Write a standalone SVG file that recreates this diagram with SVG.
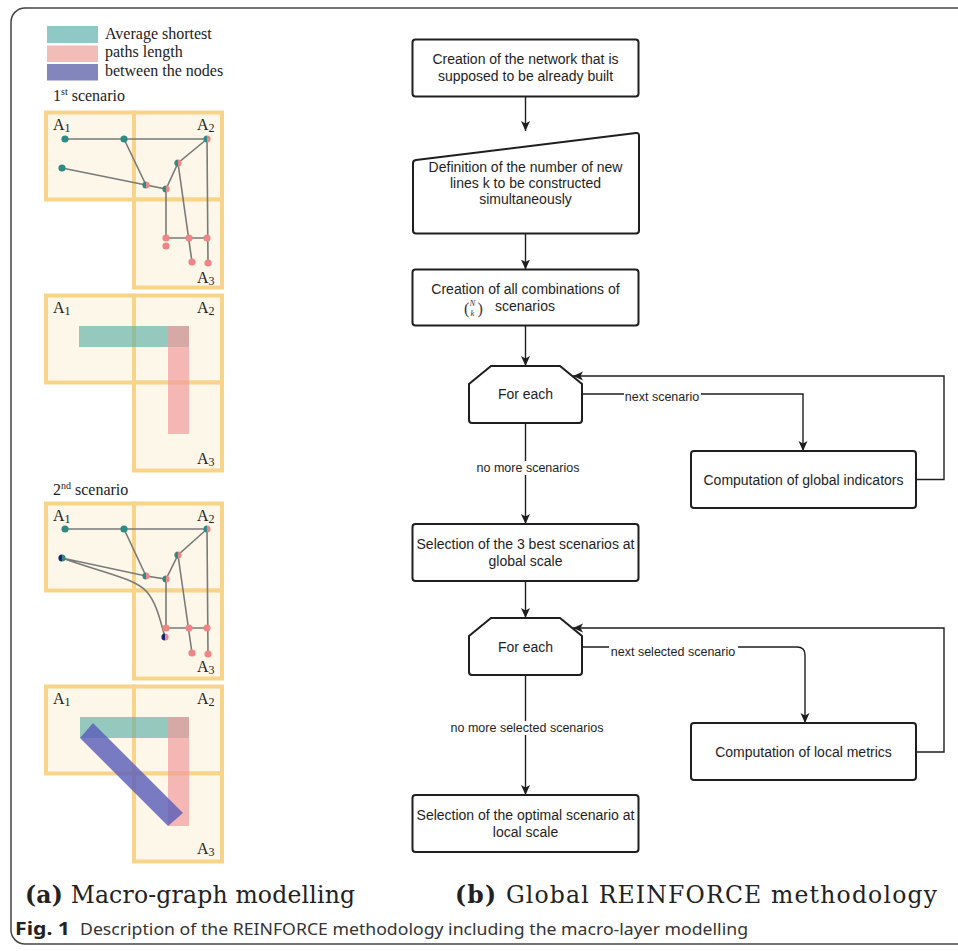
<svg xmlns="http://www.w3.org/2000/svg" width="958" height="951" viewBox="0 0 958 951">
<defs>
<style>
.area{fill:#fdf7e9;stroke:#f8d48a;stroke-width:4}
.ge{stroke:#7a7a7a;stroke-width:1.6;fill:none}
.nt{fill:#2e8b84}.np{fill:#f08585}.nb{fill:#1a237e}
.lbl{font-family:"Liberation Serif",serif;font-size:16px;fill:#222}
.box{fill:#fff;stroke:#1e1e1e;stroke-width:2}
.ft{font-family:"Liberation Sans",Arial,sans-serif;font-size:14px;fill:#1e1e1e;text-anchor:middle}
.el{font-family:"Liberation Sans",Arial,sans-serif;font-size:12.5px;fill:#1e1e1e;text-anchor:middle}
.con{stroke:#1e1e1e;stroke-width:1.4;fill:none}
.bg{fill:#fff}
.bt{fill:#5fb0a8;opacity:0.65}
.bp{fill:#f19b9b;opacity:0.7}
.bb{fill:#5a5fba;opacity:0.82}
.cap{font-family:"DejaVu Serif",serif;font-size:23.5px;fill:#222}
</style>
<marker id="arr" markerUnits="userSpaceOnUse" markerWidth="10" markerHeight="10" refX="10" refY="5" orient="auto">
<path d="M0,0.5 L10,5 L0,9.5 L2.5,5 Z" fill="#1e1e1e"/>
</marker>
</defs>
<rect width="958" height="951" fill="#fff"/>
<rect x="11" y="8" width="970" height="936" rx="14" fill="none" stroke="#444" stroke-width="1.5"/>

<g id="legend">
<rect x="47" y="26" width="51" height="17" fill="#8fc8c4"/>
<rect x="47" y="45.5" width="51" height="16.5" fill="#f2bdb7"/>
<rect x="47" y="64" width="51" height="16.5" fill="#8286bd"/>
<text class="lbl" x="105" y="39">Average shortest</text>
<text class="lbl" x="105" y="57">paths length</text>
<text class="lbl" x="105" y="75.5">between the nodes</text>
</g>

<text class="lbl" x="53" y="101">1<tspan font-size="10" dy="-6">st</tspan><tspan dy="6"> scenario</tspan></text>
<text class="lbl" x="53" y="495">2<tspan font-size="10" dy="-6">nd</tspan><tspan dy="6"> scenario</tspan></text>

<g id="panel1" transform="translate(0,112)">
<rect class="area" x="46" y="0.5" width="88" height="87"/>
<rect class="area" x="134" y="0.5" width="88" height="87"/>
<rect class="area" x="134" y="87.5" width="88" height="88"/>
<path class="ge" d="M65,27 L207,27 M124,27 L146,73 M62,56 L146,73 L166,77 L178,51 L207,27 M207,27 L208,151 M178,51 L192,150 M166,77 L166,126 L207,126"/>
<circle class="nt" cx="65" cy="27" r="3.6"/>
<circle class="nt" cx="124" cy="27" r="3.6"/>
<circle class="nt" cx="62" cy="56" r="3.6"/>
<path class="nt" d="M207,23.4 A3.6,3.6 0 0 0 207,30.6 Z"/><path class="np" d="M207,23.4 A3.6,3.6 0 0 1 207,30.6 Z"/>
<path class="nt" d="M178,47.4 A3.6,3.6 0 0 0 178,54.6 Z"/><path class="np" d="M178,47.4 A3.6,3.6 0 0 1 178,54.6 Z"/>
<path class="nt" d="M146,69.4 A3.6,3.6 0 0 0 146,76.6 Z"/><path class="np" d="M146,69.4 A3.6,3.6 0 0 1 146,76.6 Z"/>
<path class="nt" d="M166,73.4 A3.6,3.6 0 0 0 166,80.6 Z"/><path class="np" d="M166,73.4 A3.6,3.6 0 0 1 166,80.6 Z"/>
<circle class="np" cx="166" cy="126" r="3.6"/>
<circle class="np" cx="166" cy="134" r="3.6"/>
<circle class="np" cx="189" cy="126" r="3.6"/>
<circle class="np" cx="207" cy="126" r="3.6"/>
<circle class="np" cx="192" cy="150" r="3.6"/>
<circle class="np" cx="208" cy="151" r="3.6"/>
<text class="lbl" x="53" y="18">A<tspan font-size="12" dy="2">1</tspan></text>
<text class="lbl" x="197" y="18">A<tspan font-size="12" dy="2">2</tspan></text>
<text class="lbl" x="197" y="171">A<tspan font-size="12" dy="2">3</tspan></text>
</g>

<g id="panel2" transform="translate(0,295)">
<rect class="area" x="46" y="0.5" width="88" height="87"/>
<rect class="area" x="134" y="0.5" width="88" height="87"/>
<rect class="area" x="134" y="87.5" width="88" height="88"/>
<rect class="bt" x="79" y="31" width="110" height="21"/>
<rect class="bp" x="168" y="31" width="21" height="108"/>
<text class="lbl" x="53" y="18">A<tspan font-size="12" dy="2">1</tspan></text>
<text class="lbl" x="197" y="18">A<tspan font-size="12" dy="2">2</tspan></text>
<text class="lbl" x="197" y="169">A<tspan font-size="12" dy="2">3</tspan></text>
</g>

<g id="panel3" transform="translate(0,503)">
<rect class="area" x="46" y="0.5" width="88" height="87"/>
<rect class="area" x="134" y="0.5" width="88" height="87"/>
<rect class="area" x="134" y="87.5" width="88" height="88"/>
<path class="ge" d="M65,26 L207,26 M124,26 L146,73 M62,55 L146,73 L166,76 L178,52 L207,26 M207,26 L208,151 M178,52 L192,150 M166,76 L166,125 L207,125 M62,55 C100,69 135,75 147,89 C157,101 160,117 165,134"/>
<circle class="nt" cx="65" cy="26" r="3.6"/>
<circle class="nt" cx="124" cy="26" r="3.6"/>
<path class="nb" d="M62,51.4 A3.6,3.6 0 0 0 62,58.6 Z"/><path class="nt" d="M62,51.4 A3.6,3.6 0 0 1 62,58.6 Z"/>
<path class="nt" d="M207,22.4 A3.6,3.6 0 0 0 207,29.6 Z"/><path class="np" d="M207,22.4 A3.6,3.6 0 0 1 207,29.6 Z"/>
<path class="nt" d="M178,48.4 A3.6,3.6 0 0 0 178,55.6 Z"/><path class="np" d="M178,48.4 A3.6,3.6 0 0 1 178,55.6 Z"/>
<path class="nt" d="M146,69.4 A3.6,3.6 0 0 0 146,76.6 Z"/><path class="np" d="M146,69.4 A3.6,3.6 0 0 1 146,76.6 Z"/>
<path class="nt" d="M166,72.4 A3.6,3.6 0 0 0 166,79.6 Z"/><path class="np" d="M166,72.4 A3.6,3.6 0 0 1 166,79.6 Z"/>
<circle class="np" cx="166" cy="125" r="3.6"/>
<path class="nb" d="M165,130.4 A3.6,3.6 0 0 0 165,137.6 Z"/><path class="np" d="M165,130.4 A3.6,3.6 0 0 1 165,137.6 Z"/>
<circle class="np" cx="189" cy="125" r="3.6"/>
<circle class="np" cx="207" cy="125" r="3.6"/>
<circle class="np" cx="192" cy="150" r="3.6"/>
<circle class="np" cx="208" cy="151" r="3.6"/>
<text class="lbl" x="53" y="18">A<tspan font-size="12" dy="2">1</tspan></text>
<text class="lbl" x="197" y="18">A<tspan font-size="12" dy="2">2</tspan></text>
<text class="lbl" x="197" y="169">A<tspan font-size="12" dy="2">3</tspan></text>
</g>

<g id="panel4" transform="translate(0,686)">
<rect class="area" x="46" y="0.5" width="88" height="87"/>
<rect class="area" x="134" y="0.5" width="88" height="87"/>
<rect class="area" x="134" y="87.5" width="88" height="88"/>
<rect class="bt" x="80" y="31" width="109" height="21"/>
<rect class="bp" x="168" y="31" width="21" height="109"/>
<polygon class="bb" points="80,52 93,37 183,127 168,140"/>
<text class="lbl" x="53" y="18">A<tspan font-size="12" dy="2">1</tspan></text>
<text class="lbl" x="197" y="18">A<tspan font-size="12" dy="2">2</tspan></text>
<text class="lbl" x="197" y="168">A<tspan font-size="12" dy="2">3</tspan></text>
</g>

<g id="connectors">
<path class="con" marker-end="url(#arr)" d="M525.5,96.5 L525.5,131"/>
<path class="con" marker-end="url(#arr)" d="M525.5,233.5 L525.5,269.5"/>
<path class="con" marker-end="url(#arr)" d="M525.5,325.5 L525.5,366"/>
<path class="con" marker-end="url(#arr)" d="M582,394 L803,394 L803,451"/>
<path class="con" marker-end="url(#arr)" d="M916,479.5 L944,479.5 L944,376 L573,376"/>
<path class="con" marker-end="url(#arr)" d="M525.5,423 L525.5,524"/>
<path class="con" marker-end="url(#arr)" d="M525.5,581 L525.5,618"/>
<path class="con" marker-end="url(#arr)" d="M582,647 L797,647 Q805,647 805,655 L805,723"/>
<path class="con" marker-end="url(#arr)" d="M916,752 L944,752 L944,628 L573,628"/>
<path class="con" marker-end="url(#arr)" d="M525.5,675 L525.5,795"/>
<rect class="bg" x="624" y="389" width="77" height="14"/>
<text class="el" x="662" y="401">next scenario</text>
<rect class="bg" x="476" y="461" width="104" height="14"/>
<text class="el" x="528" y="472">no more scenarios</text>
<rect class="bg" x="609" y="645" width="129" height="14"/>
<text class="el" x="673" y="656">next selected scenario</text>
<rect class="bg" x="450" y="721" width="154" height="14"/>
<text class="el" x="527" y="732">no more selected scenarios</text>
</g>

<g id="n1">
<rect class="box" x="412.5" y="39.5" width="226" height="57" rx="3"/>
<text class="ft" x="525.5" y="64">Creation of the network that is</text>
<text class="ft" x="525.5" y="81">supposed to be already built</text>
</g>
<g id="n2">
<path class="box" d="M413,163 Q413,160.5 416,160 L636,133 Q639,132.7 639,135.7 L639,230.5 Q639,233.5 636,233.5 L416,233.5 Q413,233.5 413,230.5 Z"/>
<text class="ft" x="525.5" y="171.5">Definition of the number of new</text>
<text class="ft" x="525.5" y="188">lines k to be constructed</text>
<text class="ft" x="525.5" y="203.5">simultaneously</text>
</g>
<g id="n3">
<rect class="box" x="412.5" y="269.5" width="226" height="56" rx="3"/>
<text class="ft" x="525.5" y="293.5">Creation of all combinations of</text>
<text font-family="Liberation Serif,serif" font-size="16" fill="#333" x="464" y="314">(</text>
<text font-family="Liberation Serif,serif" font-size="8.5" font-style="italic" fill="#333" x="469.5" y="306">N</text>
<text font-family="Liberation Serif,serif" font-size="8.5" font-style="italic" fill="#333" x="470.5" y="315.5">k</text>
<text font-family="Liberation Serif,serif" font-size="16" fill="#333" x="477.5" y="314">)</text>
<text class="ft" x="495" y="310.5" style="text-anchor:start">scenarios</text>
</g>
<g id="n4">
<path class="box" d="M469,384 L491,366 L560,366 L582,384 L582,420 Q582,423 579,423 L472,423 Q469,423 469,420 Z"/>
<text class="ft" x="525.5" y="398.5">For each</text>
</g>
<g id="n5">
<rect class="box" x="691" y="451" width="225" height="57" rx="3"/>
<text class="ft" x="803.5" y="484.5">Computation of global indicators</text>
</g>
<g id="n6">
<rect class="box" x="412.5" y="524" width="226" height="57" rx="3"/>
<text class="ft" x="525.5" y="548.5">Selection of the 3 best scenarios at</text>
<text class="ft" x="525.5" y="565.5">global scale</text>
</g>
<g id="n7">
<path class="box" d="M469,636 L491,618 L560,618 L582,636 L582,672 Q582,675 579,675 L472,675 Q469,675 469,672 Z"/>
<text class="ft" x="525.5" y="651.5">For each</text>
</g>
<g id="n8">
<rect class="box" x="691" y="723" width="225" height="57" rx="3"/>
<text class="ft" x="803.5" y="756.5">Computation of local metrics</text>
</g>
<g id="n9">
<rect class="box" x="412.5" y="795" width="226" height="57" rx="3"/>
<text class="ft" x="525.5" y="819.5">Selection of the optimal scenario at</text>
<text class="ft" x="525.5" y="836.5">local scale</text>
</g>

<g id="captions">
<text class="cap" x="25" y="903" textLength="330"><tspan font-weight="bold">(a)</tspan> Macro-graph modelling</text>
<text class="cap" x="455" y="903" textLength="482"><tspan font-weight="bold">(b)</tspan> Global REINFORCE methodology</text>
<text font-family="Noto Sans,sans-serif" font-size="17" font-weight="bold" fill="#222" x="15" y="935" textLength="55" lengthAdjust="spacingAndGlyphs">Fig. 1</text>
<text font-family="Noto Sans,sans-serif" font-size="17" fill="#333" x="80" y="935" textLength="668" lengthAdjust="spacingAndGlyphs">Description of the REINFORCE methodology including the macro-layer modelling</text>
</g>
</svg>
